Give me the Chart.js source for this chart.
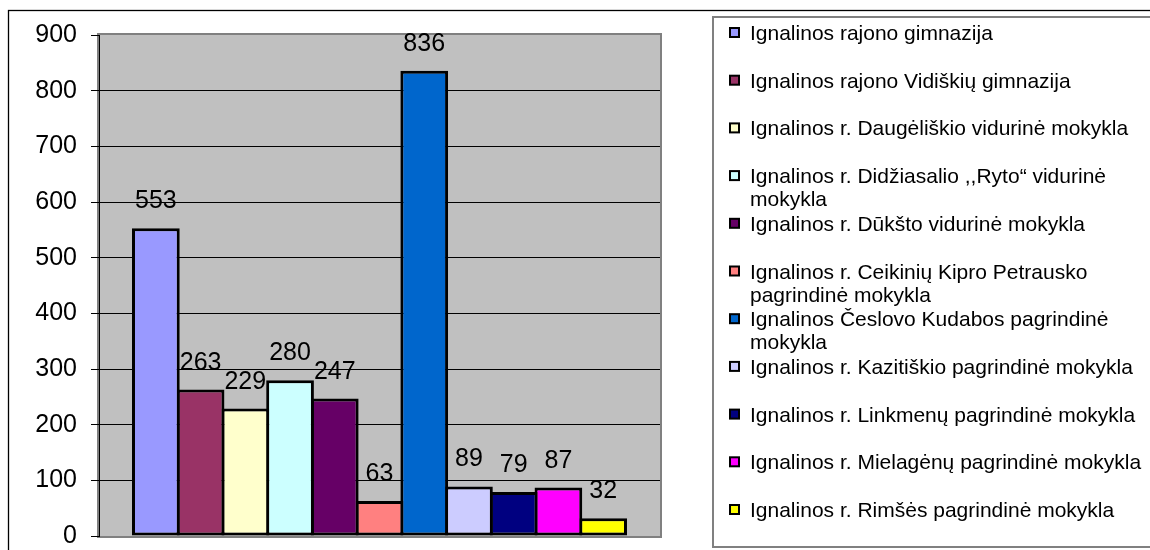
<!DOCTYPE html>
<html lang="lt">
<head>
  <meta charset="UTF-8" />
  <title>Ignalinos rajono mokyklos</title>
  <script src="https://cdn.jsdelivr.net/npm/chart.js"></script>
  <style>
    * {
      box-sizing: border-box;
    }
    body {
      margin: 0;
      background: #fff;
    }
    .chart-container {
      width: 1150px;
      height: 550px;
      position: relative;
    }
  </style>
</head>
<body>
  <div class="chart-container">
    <canvas id="chart"></canvas>
  </div>
  <script>
    // Schools (legend entries, long ones pre-wrapped like the original)
    const schools = [
      "Ignalinos rajono gimnazija",
      "Ignalinos rajono Vidiškių gimnazija",
      "Ignalinos r. Daugėliškio vidurinė mokykla",
      ["Ignalinos r. Didžiasalio ,,Ryto“ vidurinė", "mokykla"],
      "Ignalinos r. Dūkšto vidurinė mokykla",
      ["Ignalinos r. Ceikinių Kipro Petrausko", "pagrindinė mokykla"],
      ["Ignalinos Česlovo Kudabos pagrindinė", "mokykla"],
      "Ignalinos r. Kazitiškio pagrindinė mokykla",
      "Ignalinos r. Linkmenų pagrindinė mokykla",
      "Ignalinos r. Mielagėnų pagrindinė mokykla",
      "Ignalinos r. Rimšės pagrindinė mokykla"
    ];

    const values = [553, 263, 229, 280, 247, 63, 836, 89, 79, 87, 32];

    const colors = [
      "#9999FF", "#993366", "#FFFFCC", "#CCFFFF", "#660066", "#FF8080",
      "#0066CC", "#CCCCFF", "#000080", "#FF00FF", "#FFFF00"
    ];

    const yMin = 0;
    const yMax = 900;
    const yStep = 100;

    const FONT = "Liberation Sans, Arial, sans-serif";

    // gray plot area with its darker frame
    const plotBackground = {
      id: "plotBackground",
      beforeDraw(chart) {
        const { ctx, chartArea: a } = chart;
        ctx.save();
        ctx.fillStyle = "#808080";
        ctx.fillRect(a.left - 2, a.top - 2, a.right - a.left + 4, a.bottom - a.top + 4);
        ctx.fillStyle = "#C0C0C0";
        ctx.fillRect(a.left, a.top, a.right - a.left, a.bottom - a.top);
        ctx.restore();
      }
    };

    // value above each bar
    const valueLabels = {
      id: "valueLabels",
      afterDatasetsDraw(chart) {
        const ctx = chart.ctx;
        ctx.save();
        ctx.font = "25px " + FONT;
        ctx.fillStyle = "#000";
        ctx.textAlign = "center";
        ctx.textBaseline = "alphabetic";
        chart.data.datasets.forEach((ds, i) => {
          const bar = chart.getDatasetMeta(i).data[0];
          ctx.fillText(String(ds.data[0]), bar.x, bar.y - 20);
        });
        ctx.restore();
      }
    };

    // outer frame and the boxed legend on the right
    const frameAndLegend = {
      id: "frameAndLegend",
      afterDraw(chart) {
        const ctx = chart.ctx;
        ctx.save();
        ctx.strokeStyle = "#000";
        ctx.lineWidth = 1.3;
        ctx.strokeRect(8.5, 10.5, 1300, 700);

        ctx.strokeStyle = "#808080";
        ctx.lineWidth = 2;
        ctx.strokeRect(713, 17, 600, 530);

        ctx.font = "21px " + FONT;
        ctx.textAlign = "left";
        ctx.textBaseline = "alphabetic";
        chart.data.datasets.forEach((ds, i) => {
          const base = 40 + i * 47.7;
          ctx.fillStyle = "#000";
          ctx.fillRect(729, base - 13, 11, 11);
          ctx.fillStyle = ds.backgroundColor;
          ctx.fillRect(731, base - 11, 7, 7);
          ctx.fillStyle = "#000";
          const lines = Array.isArray(ds.label) ? ds.label : [ds.label];
          lines.forEach((line, j) => ctx.fillText(line, 750, base + j * 23));
        });
        ctx.restore();
      }
    };

    const datasets = values.map((v, i) => ({
      label: schools[i],
      data: [v],
      backgroundColor: colors[i],
      borderColor: "#000",
      borderWidth: 3,
      borderSkipped: false,
      inflateAmount: 0
    }));

    new Chart(document.getElementById("chart"), {
      type: "bar",
      data: {
        labels: [""],
        datasets: datasets
      },
      options: {
        responsive: true,
        maintainAspectRatio: false,
        animation: false,
        // bars a touch wider than their slot so neighbours share one outline
        categoryPercentage: 0.877,
        barPercentage: 1.067,
        layout: {
          padding: { left: 0, top: 35, right: 490, bottom: 14 }
        },
        scales: {
          x: {
            display: false
          },
          y: {
            min: yMin,
            max: yMax,
            afterFit(scale) {
              scale.width = 99;
              scale.paddingTop = 0;
              scale.paddingBottom = 0;
            },
            ticks: {
              stepSize: yStep,
              padding: 14,
              color: "#000",
              font: { family: FONT, size: 25 }
            },
            grid: {
              color: ctx => (ctx.tick && (ctx.tick.value === yMin || ctx.tick.value === yMax)) ? "rgba(0,0,0,0)" : "#000",
              tickColor: "#000",
              tickLength: 8,
              lineWidth: 1
            },
            border: {
              display: true,
              color: "#000",
              width: 1
            }
          }
        },
        plugins: {
          legend: { display: false },
          tooltip: { enabled: false }
        }
      },
      plugins: [plotBackground, valueLabels, frameAndLegend]
    });
  </script>
</body>
</html>
